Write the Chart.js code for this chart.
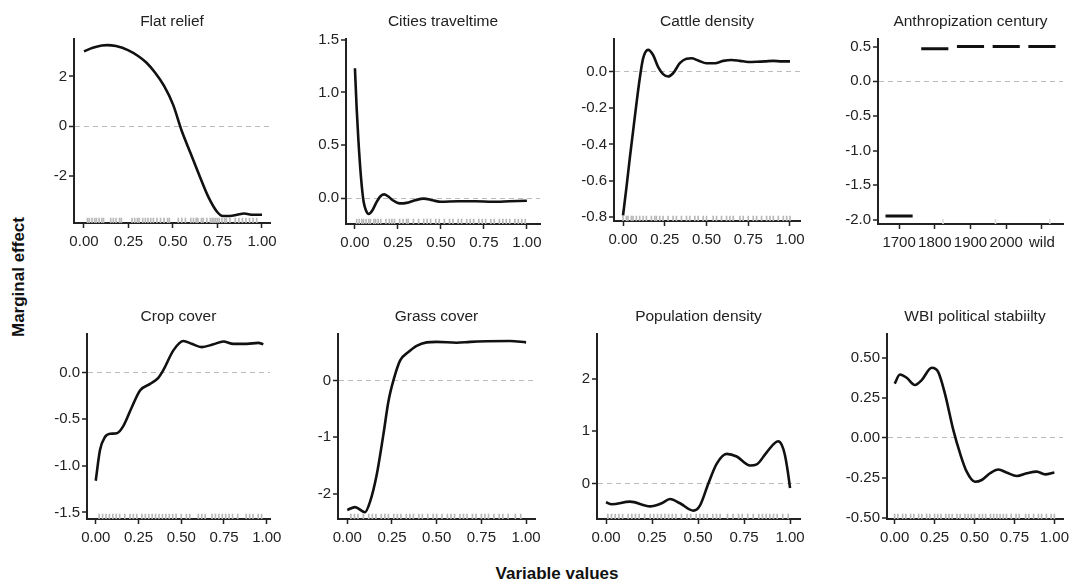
<!DOCTYPE html>
<html>
<head>
<meta charset="utf-8">
<title>Marginal effects</title>
<script src="https://cdn.jsdelivr.net/npm/chart.js@4.4.1/dist/chart.umd.min.js"></script>
<style>
  body { margin: 0; background: #fff; }
  #wrap { position: relative; width: 1072px; height: 585px; overflow: hidden; font-family: 'Liberation Sans', Arial, sans-serif; }
  canvas { position: absolute; }
  .lab { position: absolute; font-weight: bold; font-size: 17px; color: #111; white-space: nowrap; }
  #ylab { left: 19px; top: 277px; transform: translate(-50%, -50%) rotate(-90deg); }
  #xlab { left: 557px; top: 574px; transform: translate(-50%, -50%); }
</style>
</head>
<body>
<div id="wrap">
  <div class="lab" id="ylab">Marginal effect</div>
  <div class="lab" id="xlab">Variable values</div>
</div>
<script>
// tick labels shared by the continuous panels
var contTicks = ['0.00', '0.25', '0.50', '0.75', '1.00'];

// Flat relief
var flatX = [0, 0.05, 0.1, 0.13, 0.18, 0.25, 0.3, 0.35, 0.4, 0.45, 0.5, 0.55, 0.6, 0.65, 0.7, 0.75, 0.78, 0.82, 0.86, 0.9, 0.95, 1.0];
var flatY = [3.01, 3.15, 3.24, 3.26, 3.22, 3.05, 2.84, 2.56, 2.15, 1.62, 0.88, -0.2, -1.1, -2.0, -2.85, -3.45, -3.6, -3.6, -3.55, -3.5, -3.55, -3.55];
var flatTicks = ['-2', '0', '2'];
var flatRug = [0.02, 0.03, 0.045, 0.06, 0.07, 0.085, 0.1, 0.11, 0.15, 0.165, 0.18, 0.2, 0.21, 0.27, 0.285, 0.3, 0.31, 0.33, 0.345, 0.36, 0.375, 0.39, 0.41, 0.43, 0.45, 0.47, 0.48, 0.53, 0.55, 0.57, 0.6, 0.615, 0.63, 0.64, 0.66, 0.67, 0.69, 0.71, 0.72, 0.73, 0.74, 0.75, 0.76, 0.775, 0.79, 0.8, 0.82, 0.85, 0.87, 0.89, 0.91, 0.93, 0.95, 0.97];

// Cities traveltime
var citiesX = [0, 0.01, 0.02, 0.035, 0.05, 0.065, 0.08, 0.1, 0.125, 0.15, 0.17, 0.19, 0.22, 0.26, 0.3, 0.35, 0.4, 0.45, 0.5, 0.6, 0.7, 0.8, 0.9, 1.0];
var citiesY = [1.23, 0.85, 0.55, 0.2, -0.03, -0.12, -0.15, -0.12, -0.04, 0.02, 0.035, 0.02, -0.02, -0.05, -0.045, -0.02, -0.005, -0.02, -0.035, -0.03, -0.03, -0.035, -0.03, -0.025];
var citiesTicks = ['0.0', '0.5', '1.0', '1.5'];
var citiesRug = [0.01, 0.025, 0.04, 0.05, 0.065, 0.08, 0.09, 0.11, 0.12, 0.135, 0.15, 0.18, 0.2, 0.215, 0.23, 0.26, 0.28, 0.3, 0.31, 0.34, 0.37, 0.4, 0.42, 0.44, 0.47, 0.49, 0.52, 0.55, 0.57, 0.6, 0.62, 0.65, 0.67, 0.69, 0.72, 0.74, 0.76, 0.79, 0.81, 0.84, 0.86, 0.88, 0.9, 0.93, 0.95, 0.97, 0.99];

// Cattle density
var cattleX = [0, 0.02, 0.04, 0.06, 0.08, 0.1, 0.12, 0.15, 0.18, 0.21, 0.24, 0.27, 0.3, 0.34, 0.38, 0.41, 0.45, 0.5, 0.55, 0.6, 0.65, 0.7, 0.75, 0.8, 0.85, 0.9, 0.95, 1.0];
var cattleY = [-0.79, -0.64, -0.48, -0.33, -0.18, -0.04, 0.07, 0.118, 0.09, 0.025, -0.015, -0.028, -0.01, 0.045, 0.07, 0.072, 0.06, 0.045, 0.045, 0.058, 0.063, 0.058, 0.052, 0.053, 0.055, 0.058, 0.055, 0.055];
var cattleTicks = ['-0.8', '-0.6', '-0.4', '-0.2', '0.0'];
var cattleRug = [0, 0.02, 0.03, 0.05, 0.06, 0.08, 0.1, 0.12, 0.14, 0.17, 0.19, 0.2, 0.22, 0.24, 0.27, 0.3, 0.32, 0.35, 0.38, 0.4, 0.43, 0.45, 0.48, 0.5, 0.54, 0.56, 0.59, 0.62, 0.64, 0.66, 0.7, 0.72, 0.75, 0.78, 0.8, 0.83, 0.86, 0.88, 0.9, 0.93, 0.96, 0.98, 1.0];

// Anthropization century (factor)
var centuries = ['1700', '1800', '1900', '2000', 'wild'];
var centuryEffect = [-1.94, 0.47, 0.5, 0.5, 0.5];
var centuryTicks = ['-2.0', '-1.5', '-1.0', '-0.5', '0.0', '0.5'];
var centuryRug = [2.23, 3.7, 5.22];

// Crop cover
var cropX = [0, 0.025, 0.054, 0.084, 0.123, 0.162, 0.211, 0.259, 0.318, 0.366, 0.396, 0.454, 0.513, 0.561, 0.62, 0.688, 0.746, 0.805, 0.883, 0.951, 0.98];
var cropY = [-1.16, -0.83, -0.69, -0.655, -0.65, -0.57, -0.37, -0.19, -0.12, -0.055, 0.03, 0.24, 0.34, 0.31, 0.275, 0.305, 0.335, 0.31, 0.31, 0.32, 0.305];
var cropTicks = ['-1.5', '-1.0', '-0.5', '0.0'];
var cropRug = [0.02, 0.04, 0.06, 0.08, 0.1, 0.12, 0.14, 0.17, 0.2, 0.22, 0.24, 0.27, 0.29, 0.31, 0.33, 0.35, 0.37, 0.39, 0.41, 0.43, 0.45, 0.47, 0.5, 0.53, 0.55, 0.6, 0.62, 0.64, 0.68, 0.7, 0.72, 0.74, 0.76, 0.78, 0.8, 0.83, 0.88, 0.9, 0.92, 0.95, 0.97];

// Grass cover
var grassX = [0, 0.043, 0.099, 0.127, 0.164, 0.202, 0.23, 0.258, 0.295, 0.342, 0.388, 0.444, 0.5, 0.612, 0.687, 0.78, 0.91, 1.0];
var grassY = [-2.28, -2.23, -2.32, -2.14, -1.67, -0.95, -0.37, 0, 0.35, 0.5, 0.61, 0.67, 0.68, 0.665, 0.68, 0.69, 0.695, 0.67];
var grassTicks = ['-2', '-1', '0'];
var grassRug = [0.02, 0.04, 0.06, 0.09, 0.12, 0.14, 0.16, 0.19, 0.21, 0.23, 0.26, 0.28, 0.3, 0.33, 0.35, 0.37, 0.4, 0.42, 0.45, 0.48, 0.5, 0.53, 0.56, 0.58, 0.6, 0.63, 0.65, 0.67, 0.7, 0.72, 0.75, 0.77, 0.79, 0.82, 0.85, 0.87, 0.9, 0.94, 0.97];

// Population density
var popX = [0, 0.031, 0.13, 0.239, 0.302, 0.348, 0.402, 0.475, 0.511, 0.556, 0.601, 0.656, 0.71, 0.783, 0.819, 0.873, 0.935, 0.955, 0.972, 0.987, 1.0];
var popY = [-0.35, -0.39, -0.34, -0.43, -0.37, -0.29, -0.37, -0.51, -0.41, 0.005, 0.38, 0.57, 0.52, 0.35, 0.37, 0.6, 0.81, 0.74, 0.55, 0.25, -0.08];
var popTicks = ['0', '1', '2'];
var popRug = [0.01, 0.03, 0.05, 0.07, 0.09, 0.12, 0.14, 0.16, 0.18, 0.21, 0.24, 0.26, 0.28, 0.3, 0.32, 0.34, 0.36, 0.38, 0.41, 0.44, 0.46, 0.49, 0.51, 0.53, 0.55, 0.58, 0.6, 0.62, 0.66, 0.69, 0.72, 0.74, 0.77, 0.8, 0.83, 0.85, 0.87, 0.89, 0.91, 0.93, 0.96, 0.99];

// WBI political stability
var wbiX = [0, 0.033, 0.075, 0.127, 0.169, 0.232, 0.273, 0.315, 0.367, 0.409, 0.451, 0.503, 0.545, 0.597, 0.65, 0.7, 0.765, 0.827, 0.89, 0.942, 1.0];
var wbiY = [0.338, 0.395, 0.375, 0.33, 0.36, 0.437, 0.41, 0.275, 0.05, -0.095, -0.21, -0.273, -0.262, -0.22, -0.197, -0.215, -0.237, -0.22, -0.21, -0.227, -0.215];
var wbiTicks = ['-0.50', '-0.25', '0.00', '0.25', '0.50'];
var wbiRug = [0, 0.02, 0.05, 0.07, 0.1, 0.12, 0.15, 0.17, 0.2, 0.22, 0.25, 0.27, 0.29, 0.32, 0.34, 0.36, 0.39, 0.41, 0.44, 0.46, 0.48, 0.5, 0.53, 0.55, 0.57, 0.6, 0.62, 0.64, 0.66, 0.68, 0.7, 0.73, 0.76, 0.78, 0.82, 0.84, 0.87, 0.9, 0.92, 0.95, 0.98, 1.0];

// layout constants (px)
var YW = 58, TH = 28, XH = 32, RP = 20, RUG = 5, SEG = 0.38;

Chart.defaults.font.family = "'Liberation Sans', Arial, sans-serif";
Chart.defaults.color = '#222';

function curve(xs, ys) {
  return [{
    data: xs.map(function (x, i) { return { x: x, y: ys[i] }; }),
    borderColor: '#111', borderWidth: 2.6, pointRadius: 0,
    cubicInterpolationMode: 'monotone'
  }];
}

function segments(vals) {
  return vals.map(function (v, i) {
    return {
      data: [{ x: i + 1 - SEG, y: v }, { x: i + 1 + SEG, y: v }],
      borderColor: '#111', borderWidth: 3, pointRadius: 0, borderCapStyle: 'butt'
    };
  });
}

var panels = [
  { title: 'Flat relief', sets: curve(flatX, flatY), rug: flatRug, yt: flatTicks, xr: [-0.056, 1.045], yr: [-3.88, 3.52], box: [74, 38, 270, 223] },
  { title: 'Cities traveltime', sets: curve(citiesX, citiesY), rug: citiesRug, yt: citiesTicks, xr: [-0.052, 1.076], yr: [-0.245, 1.51], box: [346, 38, 540, 224] },
  { title: 'Cattle density', sets: curve(cattleX, cattleY), rug: cattleRug, yt: cattleTicks, xr: [-0.054, 1.06], yr: [-0.82, 0.18], box: [614, 38, 800, 221] },
  { title: 'Anthropization century', sets: segments(centuryEffect), rug: centuryRug, yt: centuryTicks, xr: [0.41, 5.59], yr: [-2.057, 0.615], box: [878, 38, 1063, 224],
    xv: centuries.map(function (c, i) { return i + 1; }), xl: centuries, rugColor: '#ddd' },
  { title: 'Crop cover', sets: curve(cropX, cropY), rug: cropRug, yt: cropTicks, xr: [-0.051, 1.019], yr: [-1.57, 0.42], box: [87, 333, 270, 519] },
  { title: 'Grass cover', sets: curve(grassX, grassY), rug: grassRug, yt: grassTicks, xr: [-0.052, 1.05], yr: [-2.44, 0.825], box: [338, 333, 535, 519] },
  { title: 'Population density', sets: curve(popX, popY), rug: popRug, yt: popTicks, xr: [-0.049, 1.054], yr: [-0.67, 2.86], box: [597, 333, 800, 519] },
  { title: 'WBI political stabiilty', sets: curve(wbiX, wbiY), rug: wbiRug, yt: wbiTicks, xr: [-0.048, 1.054], yr: [-0.505, 0.65], box: [887, 333, 1063, 519] }
];

panels.forEach(function (p) {
  var l = p.box[0], t = p.box[1], w = p.box[2] - p.box[0], h = p.box[3] - p.box[1];
  var cv = document.createElement('canvas');
  cv.width = w + YW + RP;
  cv.height = h + TH + XH;
  cv.style.left = (l - YW) + 'px';
  cv.style.top = (t - TH) + 'px';
  document.getElementById('wrap').appendChild(cv);

  var xl = p.xl || contTicks;
  var xv = p.xv || contTicks.map(parseFloat);
  var yv = p.yt.map(parseFloat);

  var rugSet = {
    type: 'bar', yAxisID: 'yRug',
    data: p.rug.map(function (v) { return { x: v, y: [0, RUG / h] }; }),
    backgroundColor: p.rugColor || '#b8b8b8', barThickness: 1, borderWidth: 0
  };

  new Chart(cv, {
    type: 'line',
    data: { datasets: [rugSet].concat(p.sets) },
    options: {
      responsive: false,
      animation: false,
      layout: { padding: { left: 0, top: 0, right: RP, bottom: 0 } },
      plugins: {
        legend: { display: false },
        tooltip: { enabled: false },
        title: {
          display: true, text: p.title, fullSize: false, color: '#222',
          font: { size: 15.5, weight: 'normal', lineHeight: 1.2 },
          padding: { top: 2, bottom: 8 }
        }
      },
      scales: {
        x: {
          type: 'linear', min: p.xr[0], max: p.xr[1], bounds: 'data', offset: false,
          afterFit: function (s) { s.height = XH; },
          afterBuildTicks: function (s) { s.ticks = xv.map(function (v) { return { value: v }; }); },
          ticks: { autoSkip: false, maxRotation: 0, padding: 5, color: '#222', font: { size: 15 },
                   callback: function (v, i) { return xl[i]; } },
          grid: { offset: false, drawOnChartArea: false, tickLength: 5, tickColor: '#222', tickWidth: 1.5, lineWidth: 1 },
          border: { color: '#222', width: 2 }
        },
        y: {
          type: 'linear', min: p.yr[0], max: p.yr[1], bounds: 'data',
          afterFit: function (s) { s.width = YW; },
          afterBuildTicks: function (s) { s.ticks = yv.map(function (v) { return { value: v }; }); },
          ticks: { autoSkip: false, padding: 2, color: '#222', font: { size: 15 },
                   callback: function (v, i) { return p.yt[i]; } },
          grid: {
            color: '#bbb',
            lineWidth: function (c) { return c.tick && c.tick.value === 0 ? 1 : 0; },
            tickLength: 5, tickColor: '#222', tickWidth: 1.5
          },
          border: { color: '#222', width: 2, dash: [5, 4] }
        },
        yRug: { type: 'linear', axis: 'y', position: 'left', display: false, min: 0, max: 1 }
      }
    }
  });
});
</script>
</body>
</html>
